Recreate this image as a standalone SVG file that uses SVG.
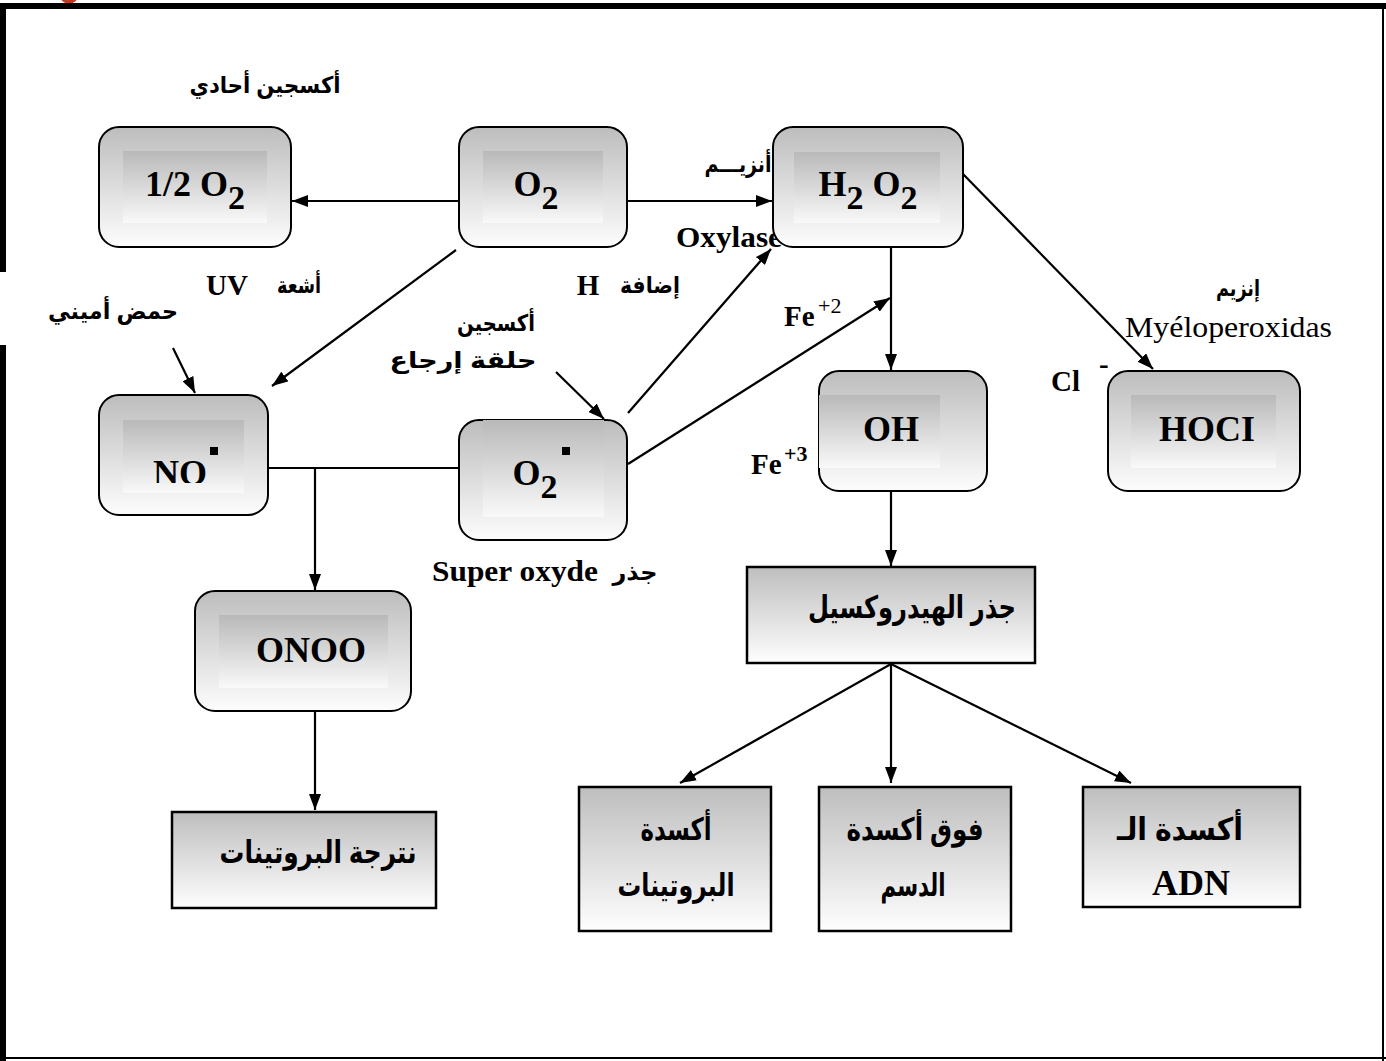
<svg xmlns="http://www.w3.org/2000/svg" width="1386" height="1061" viewBox="0 0 1386 1061">
<defs>
<linearGradient id="gOuter" x1="0" y1="0" x2="0" y2="1"><stop offset="0" stop-color="#bdbdbd"/><stop offset="1" stop-color="#fdfdfd"/></linearGradient>
<linearGradient id="gInner" x1="0" y1="0" x2="0" y2="1"><stop offset="0" stop-color="#b9b9b9"/><stop offset="1" stop-color="#f9f9f9"/></linearGradient>
<linearGradient id="gRect" x1="0" y1="0" x2="0" y2="1"><stop offset="0" stop-color="#bebebe"/><stop offset="1" stop-color="#fefefe"/></linearGradient>
<marker id="arr" viewBox="0 0 16 12" refX="16" refY="6" markerWidth="16" markerHeight="12" markerUnits="userSpaceOnUse" orient="auto"><path d="M0,0 L16,6 L0,12 Z" fill="#000"/></marker>
<clipPath id="noClip"><rect x="100" y="400" width="160" height="83"/></clipPath>
</defs>
<style>
.rn{fill:url(#gOuter);stroke:#000;stroke-width:2}
.in{fill:url(#gInner)}
.rb{fill:url(#gRect);stroke:#000;stroke-width:2.5}
.nt{font-family:"Liberation Serif",serif;font-weight:bold;font-size:36px;fill:#000}
.lt{font-family:"Liberation Serif",serif;font-weight:bold;font-size:29px;fill:#000}
.ar{font-family:"Liberation Sans","DejaVu Sans",sans-serif;font-weight:bold;font-size:23px;fill:#000}
.arb{font-family:"Liberation Sans","DejaVu Sans",sans-serif;font-weight:bold;font-size:31px;fill:#000}
.cn{fill:none;stroke:#000;stroke-width:2.2}
</style>
<rect width="1386" height="1061" fill="#fff"/>
<circle cx="69" cy="-5" r="9" fill="#c0392b"/>
<g id="frame">
<rect x="0" y="3" width="1386" height="6" fill="#000"/>
<rect x="0" y="3" width="6" height="269" fill="#000"/>
<rect x="0" y="345" width="6" height="716" fill="#000"/>
<line x1="1383" y1="3" x2="1383" y2="1061" stroke="#000" stroke-width="2"/>
<line x1="0" y1="1058" x2="1386" y2="1058" stroke="#000" stroke-width="2"/>
</g>
<g id="labels">
<text class="ar" x="265" y="93" text-anchor="middle" textLength="151" lengthAdjust="spacingAndGlyphs">أكسجين أحادي</text>
<text class="lt" x="227" y="295" text-anchor="middle">UV</text>
<text class="ar" x="299" y="293" text-anchor="middle" textLength="44" lengthAdjust="spacingAndGlyphs">أشعة</text>
<text class="lt" x="588" y="295" text-anchor="middle">H</text>
<text class="ar" x="650" y="293" text-anchor="middle" textLength="60" lengthAdjust="spacingAndGlyphs">إضافة</text>
<text class="ar" x="113" y="319" text-anchor="middle" textLength="130" lengthAdjust="spacingAndGlyphs">حمض أميني</text>
<text class="ar" x="496" y="331" text-anchor="middle" textLength="78" lengthAdjust="spacingAndGlyphs">أكسجين</text>
<text class="ar" x="463" y="368" text-anchor="middle" textLength="147" lengthAdjust="spacingAndGlyphs">حلقة إرجاع</text>
<text class="ar" x="738" y="172" text-anchor="middle" textLength="67" lengthAdjust="spacingAndGlyphs">أنزيـــم</text>
<text class="lt" x="676" y="247" textLength="106" lengthAdjust="spacingAndGlyphs">Oxylase</text>
<text class="lt" x="784" y="326">Fe</text>
<text x="818" y="313" font-family="Liberation Serif,serif" font-size="22" fill="#000">+2</text>
<text class="lt" x="751" y="474">Fe</text>
<text x="784" y="461" font-family="Liberation Serif,serif" font-weight="bold" font-size="22" fill="#000">+3</text>
<text class="ar" x="1238" y="296" text-anchor="middle" textLength="44" lengthAdjust="spacingAndGlyphs">إنزيم</text>
<text x="1125" y="337" font-family="Liberation Serif,serif" font-size="30" fill="#000" textLength="207" lengthAdjust="spacingAndGlyphs">Myéloperoxidas</text>
<text class="lt" x="1051" y="391">Cl</text>
<text class="lt" x="1099" y="374">-</text>
<text class="lt" x="432" y="581" textLength="166" lengthAdjust="spacingAndGlyphs">Super oxyde</text>
<text class="ar" x="635" y="580" text-anchor="middle" textLength="45" lengthAdjust="spacingAndGlyphs">جذر</text>
</g>
<g id="connectors">
<line class="cn" x1="459" y1="201" x2="292" y2="201" marker-end="url(#arr)"/>
<line class="cn" x1="627" y1="201" x2="772" y2="201" marker-end="url(#arr)"/>
<line class="cn" x1="456" y1="250" x2="272" y2="386" marker-end="url(#arr)"/>
<line class="cn" x1="173" y1="348" x2="195" y2="393" marker-end="url(#arr)"/>
<line class="cn" x1="556" y1="372" x2="604" y2="419" marker-end="url(#arr)"/>
<line class="cn" x1="628" y1="413" x2="771" y2="249" marker-end="url(#arr)"/>
<line class="cn" x1="628" y1="464" x2="890" y2="298" marker-end="url(#arr)"/>
<line class="cn" x1="891" y1="248" x2="891" y2="370" marker-end="url(#arr)"/>
<line class="cn" x1="963" y1="174" x2="1153" y2="369" marker-end="url(#arr)"/>
<line class="cn" x1="268" y1="468" x2="459" y2="468"/>
<line class="cn" x1="315" y1="468" x2="315" y2="590" marker-end="url(#arr)"/>
<line class="cn" x1="315" y1="712" x2="315" y2="810" marker-end="url(#arr)"/>
<line class="cn" x1="891" y1="492" x2="891" y2="566" marker-end="url(#arr)"/>
<line class="cn" x1="891" y1="664" x2="680" y2="783" marker-end="url(#arr)"/>
<line class="cn" x1="891" y1="664" x2="891" y2="783" marker-end="url(#arr)"/>
<line class="cn" x1="891" y1="664" x2="1131" y2="783" marker-end="url(#arr)"/>
</g>
<g id="n-half-o2">
<rect class="rn" x="99" y="127" width="192" height="120" rx="20"/>
<rect class="in" x="123" y="151" width="144" height="72"/>
<text class="nt" x="195" y="196" text-anchor="middle">1/2 O<tspan dy="13" font-size="34">2</tspan></text>
</g>
<g id="n-o2">
<rect class="rn" x="459" y="127" width="168" height="120" rx="20"/>
<rect class="in" x="483" y="151" width="120" height="72"/>
<text class="nt" x="536" y="196" text-anchor="middle">O<tspan dy="13" font-size="34">2</tspan></text>
</g>
<g id="n-h2o2">
<rect class="rn" x="773" y="127" width="190" height="120" rx="20"/>
<rect class="in" x="794" y="152" width="146" height="71"/>
<text class="nt" x="868" y="196" text-anchor="middle">H<tspan dy="13" font-size="34">2</tspan><tspan dy="-13"> O</tspan><tspan dy="13" font-size="34">2</tspan></text>
</g>
<g id="n-no">
<rect class="rn" x="99" y="395" width="169" height="120" rx="20"/>
<rect class="in" x="123" y="420" width="121" height="73"/>
<text class="nt" x="180" y="485" text-anchor="middle" clip-path="url(#noClip)">NO</text>
<rect x="210" y="447" width="8" height="8" fill="#000"/>
</g>
<g id="n-o2-rad">
<rect class="rn" x="459" y="420" width="168" height="120" rx="20"/>
<rect class="in" x="483" y="420" width="121" height="97"/>
<text class="nt" x="535" y="485" text-anchor="middle">O<tspan dy="13" font-size="34">2</tspan></text>
<rect x="562" y="447" width="8" height="8" fill="#000"/>
</g>
<g id="n-oh">
<rect class="rn" x="819" y="371" width="168" height="120" rx="20"/>
<rect class="in" x="819" y="395" width="121" height="73"/>
<text class="nt" x="891" y="441" text-anchor="middle">OH</text>
</g>
<g id="n-hocl">
<rect class="rn" x="1108" y="371" width="192" height="120" rx="20"/>
<rect class="in" x="1131" y="395" width="145" height="73"/>
<text class="nt" x="1207" y="441" text-anchor="middle">HOCI</text>
</g>
<g id="n-onoo">
<rect class="rn" x="195" y="591" width="216" height="120" rx="20"/>
<rect class="in" x="219" y="615" width="169" height="73"/>
<text class="nt" x="311" y="662" text-anchor="middle">ONOO</text>
</g>
<g id="n-hydroxyl">
<rect class="rb" x="747" y="567" width="288" height="96"/>
<text class="arb" x="912" y="618" text-anchor="middle" textLength="208" lengthAdjust="spacingAndGlyphs">جذر الهيدروكسيل</text>
</g>
<g id="n-nitration">
<rect class="rb" x="172" y="812" width="264" height="96"/>
<text class="arb" x="318" y="863" text-anchor="middle" textLength="197" lengthAdjust="spacingAndGlyphs">نترجة البروتينات</text>
</g>
<g id="n-prot-ox">
<rect class="rb" x="579" y="787" width="192" height="144"/>
<text class="arb" x="676" y="840" text-anchor="middle" textLength="71" lengthAdjust="spacingAndGlyphs">أكسدة</text>
<text class="arb" x="676" y="896" text-anchor="middle" textLength="117" lengthAdjust="spacingAndGlyphs">البروتينات</text>
</g>
<g id="n-lipid-perox">
<rect class="rb" x="819" y="787" width="192" height="144"/>
<text class="arb" x="915" y="840" text-anchor="middle" textLength="137" lengthAdjust="spacingAndGlyphs">فوق أكسدة</text>
<text class="arb" x="913" y="896" text-anchor="middle" textLength="65" lengthAdjust="spacingAndGlyphs">الدسم</text>
</g>
<g id="n-adn-ox">
<rect class="rb" x="1083" y="787" width="217" height="120"/>
<text class="arb" x="1180" y="840" text-anchor="middle" textLength="126" lengthAdjust="spacingAndGlyphs">أكسدة الـ</text>
<text class="nt" x="1191" y="895" text-anchor="middle" font-size="34">ADN</text>
</g>
</svg>
